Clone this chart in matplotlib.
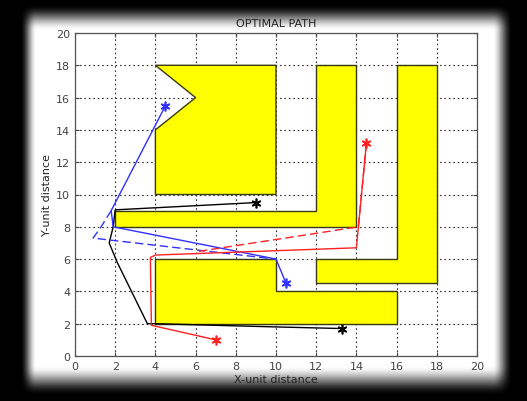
import numpy as np
import matplotlib; matplotlib.use("Agg"); import matplotlib.pyplot as plt
from matplotlib.patches import Polygon

# obstacle outlines (x, y)
obs1_x = [4, 10, 10, 4, 4, 6, 4]
obs1_y = [18, 18, 10, 10, 14, 16, 18]
obs2_x = [2, 12, 12, 14, 14, 2]
obs2_y = [9, 9, 18, 18, 8, 8]
obs3_x = [16, 18, 18, 12, 12, 16]
obs3_y = [18, 18, 4.5, 4.5, 6, 6]
obs4_x = [4, 10, 10, 16, 16, 4]
obs4_y = [6, 6, 4, 4, 2, 2]

# robot paths
black_x = [9, 2, 1.9, 1.7, 2.1, 3.6, 4, 10, 13.3]
black_y = [9.5, 9.05, 8, 7, 5.8, 2, 2, 1.8, 1.7]
blue_x = [4.5, 1.8, 1.9, 10, 10.5]
blue_y = [15.5, 9, 8, 6, 4.5]
blue_d_x = [1.8, 1.3, 0.9, 10]
blue_d_y = [9, 8, 7.3, 6]
red_x = [7, 3.8, 3.75, 4, 14, 14.1, 14.5]
red_y = [1, 1.9, 6.1, 6.25, 6.7, 8, 13.2]
red_d_x = [14.5, 14.1, 6]
red_d_y = [13.2, 8, 6.45]

W, H = 527, 402
fig = plt.figure(figsize=(W/100, H/100), dpi=100)

# dark vignette frame around the figure
bg = fig.add_axes([0, 0, 1, 1], zorder=0)
xx, yy = np.meshgrid(np.arange(W), np.arange(H))
def ramp(v):
    v = np.clip(v, 0, 1)
    return v*v*(3-2*v)
shade = ramp((xx-20)/16)*ramp((yy-5)/26)*ramp((512-xx)/20)*ramp((396-yy)/30)
bg.imshow(shade, cmap="gray", vmin=0, vmax=1, extent=[0, W, H, 0], aspect="auto")
bg.axis("off")

ax = fig.add_axes([75/W, 1-357/H, 402/W, 323/H], zorder=1)
for px, py in [(obs1_x, obs1_y), (obs2_x, obs2_y), (obs3_x, obs3_y), (obs4_x, obs4_y)]:
    ax.add_patch(Polygon(np.column_stack([px, py]), closed=True, fc="#ffff00", ec="#3a3a10", lw=1.0, zorder=2))

ax.plot(black_x, black_y, color="black", lw=1.0, zorder=3)
ax.plot(blue_x, blue_y, color="#3030ff", lw=1.0, zorder=3)
ax.plot(blue_d_x, blue_d_y, color="#3030ff", lw=1.0, ls=(0, (6, 3)), zorder=3)
ax.plot(red_x, red_y, color="#ff2020", lw=1.0, zorder=3)
ax.plot(red_d_x, red_d_y, color="#ff2020", lw=1.0, ls=(0, (6, 3)), zorder=3)
mk = dict(marker=(6, 2, 0), ms=7, mew=1.2, ls="none", zorder=4)
ax.plot([black_x[0], black_x[-1]], [black_y[0], black_y[-1]], color="black", **mk)
ax.plot([blue_x[0], blue_x[-1]], [blue_y[0], blue_y[-1]], color="#3030ff", **mk)
ax.plot([red_x[0], red_x[-1]], [red_y[0], red_y[-1]], color="#ff2020", **mk)

ax.set_xlim(0, 20); ax.set_ylim(0, 20)
ax.set_xticks(range(0, 21, 2)); ax.set_yticks(range(0, 21, 2))
ax.grid(True, color="#333333", ls=(0, (1.5, 2.5)), lw=0.8, zorder=1)
ax.set_axisbelow(True)
ax.tick_params(direction="in", top=True, right=True, labelsize=8, colors="#444444", length=3)
for s in ax.spines.values():
    s.set_color("#555555"); s.set_linewidth(0.9)
ax.set_title("OPTIMAL PATH", fontsize=8, color="#222222", pad=5)
ax.set_xlabel("X-unit distance", fontsize=8, color="#222222", labelpad=2)
ax.set_ylabel("Y-unit distance", fontsize=8, color="#222222", labelpad=3)

fig.savefig("out.png", dpi=100)
